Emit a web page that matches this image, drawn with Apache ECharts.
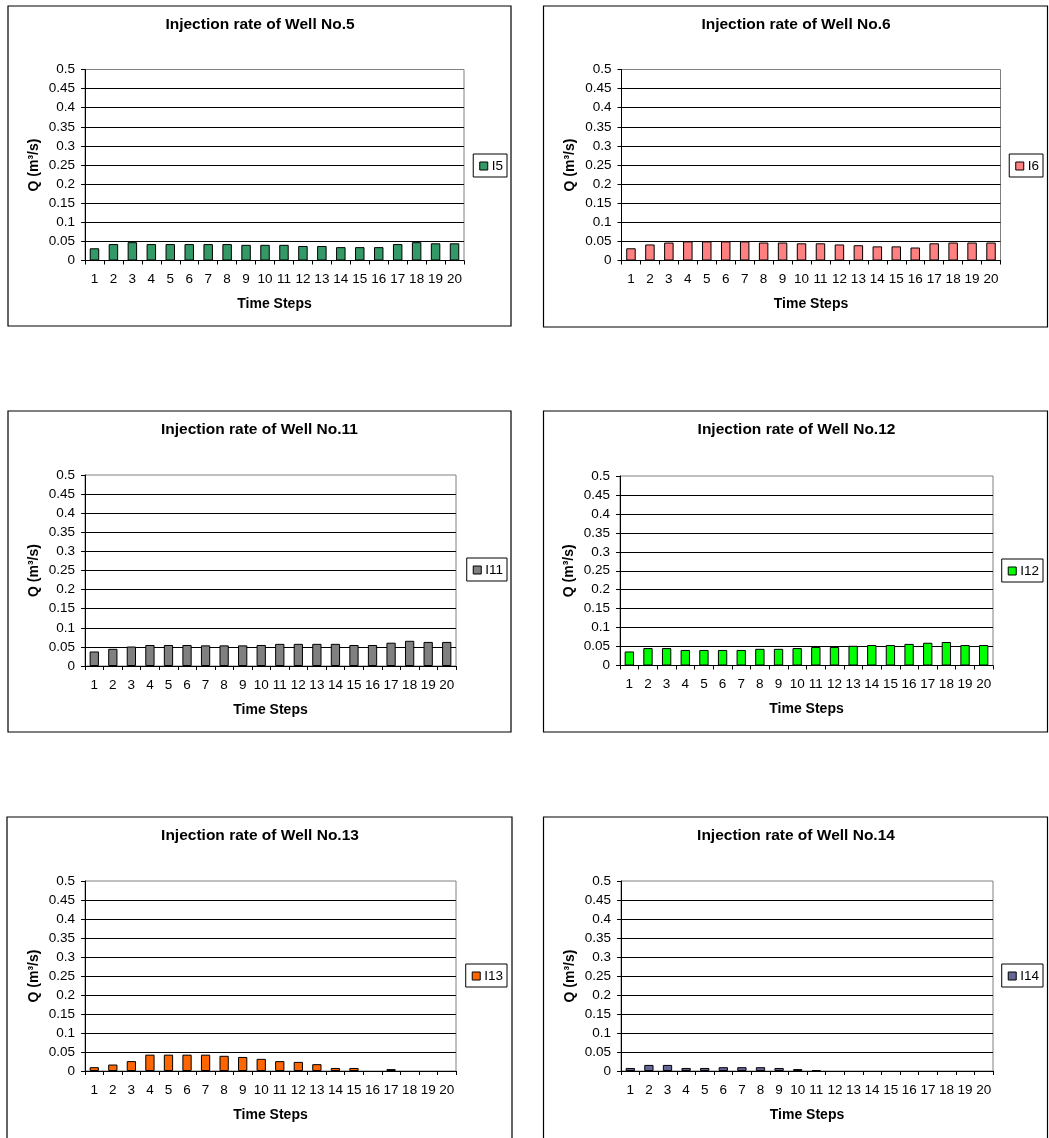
<!DOCTYPE html>
<html>
<head>
<meta charset="utf-8">
<script src="https://cdn.jsdelivr.net/npm/echarts@6/dist/echarts.min.js"></script>
<style>
html,body{margin:0;padding:0;background:#fff;}
#c{width:1049px;height:1138px;}
</style>
</head>
<body>
<div id="c"></div>
<script>
// ---- data ----
const timeSteps = ['1','2','3','4','5','6','7','8','9','10','11','12','13','14','15','16','17','18','19','20'];
const yTicks = [0,0.05,0.1,0.15,0.2,0.25,0.3,0.35,0.4,0.45,0.5];
const wellNames = ['I5','I6','I11','I12','I13','I14'];
const chartTitles = ['Injection rate of Well No.5','Injection rate of Well No.6','Injection rate of Well No.11','Injection rate of Well No.12','Injection rate of Well No.13','Injection rate of Well No.14'];
const I5  = [0.032,0.043,0.048,0.043,0.043,0.043,0.043,0.043,0.041,0.041,0.041,0.038,0.038,0.035,0.035,0.035,0.043,0.048,0.045,0.045];
const I6  = [0.032,0.042,0.047,0.05,0.05,0.05,0.05,0.047,0.047,0.045,0.045,0.042,0.04,0.037,0.037,0.034,0.045,0.047,0.047,0.047];
const I11 = [0.038,0.045,0.051,0.055,0.055,0.055,0.054,0.054,0.054,0.055,0.058,0.058,0.058,0.058,0.055,0.055,0.061,0.066,0.063,0.063];
const I12 = [0.037,0.046,0.046,0.041,0.041,0.041,0.041,0.044,0.044,0.046,0.049,0.049,0.052,0.054,0.054,0.057,0.06,0.062,0.054,0.054];
const I13 = [0.01,0.017,0.026,0.043,0.043,0.043,0.043,0.04,0.037,0.032,0.026,0.024,0.018,0.008,0.008,0,0.005,0,0,0];
const I14 = [0.008,0.016,0.016,0.008,0.008,0.01,0.01,0.01,0.008,0.005,0.002,0,0,0,0,0,0,0,0,0];
const seriesValues = [I5, I6, I11, I12, I13, I14];

// ---- styles / layout ----
const colors = ['#339966','#FF8080','#808080','#00FF00','#FF6600','#666699'];
const FONT = 'Liberation Sans, Arial, sans-serif';
const grids = [
  {left:85, top:69.5, width:379, height:191},
  {left:621.5, top:69.5, width:379, height:191},
  {left:85, top:475, width:371, height:191},
  {left:620, top:476, width:373, height:189.5},
  {left:85, top:881, width:371, height:190},
  {left:621, top:881, width:372, height:190}
];
const boxes = [
  {x:8, y:6, w:503, h:320},
  {x:543.5, y:6, w:504, h:321},
  {x:8, y:411, w:503, h:321},
  {x:543.5, y:411, w:504, h:321},
  {x:7, y:817, w:505, h:340},
  {x:543.5, y:817, w:504, h:340}
];
const titlePos = [[260,27],[796,27],[259.5,432],[796.5,432],[260,838],[796,838]];
const legendPos = [[542,154],[6,154],[542,558],[6,559],[542,964],[6,964]];

const option = {
  animation:false,
  backgroundColor:'#fff',
  textStyle:{fontFamily:FONT, color:'#000'},
  title: chartTitles.map((t,i)=>({
    text:t, left:titlePos[i][0], top:titlePos[i][1]-10, textAlign:'center', padding:0,
    textStyle:{fontFamily:FONT, fontSize:15.5, fontWeight:'bold', color:'#000'}
  })),
  legend: wellNames.map((n,i)=>({
    data:[n], right:legendPos[i][0], top:legendPos[i][1], orient:'vertical',
    borderColor:'#000', borderWidth:1, padding:[5,4,4,6], itemWidth:8, itemHeight:8, itemGap:4,
    icon:'rect', selectedMode:false,
    itemStyle:{borderColor:'#000', borderWidth:1},
    textStyle:{fontFamily:FONT, fontSize:13.5, color:'#000', padding:[0,0,0,-1]}
  })),
  grid: grids.map(g=>({left:g.left, top:g.top, width:g.width, height:g.height, show:true, borderColor:'#808080', borderWidth:1, backgroundColor:'transparent'})),
  xAxis: grids.map((g,i)=>({
    gridIndex:i, type:'category', data:timeSteps, boundaryGap:true,
    axisLine:{show:true, lineStyle:{color:'#000', width:1}},
    axisTick:{show:true, length:4, alignWithLabel:false, interval:0, lineStyle:{color:'#000'}},
    axisLabel:{interval:0, fontSize:13.5, color:'#000', margin:12, fontFamily:FONT},
    splitLine:{show:false},
    name:'Time Steps', nameLocation:'middle', nameGap:37,
    nameTextStyle:{fontFamily:FONT, fontSize:14, fontWeight:'bold', color:'#000'}
  })),
  yAxis: grids.map((g,i)=>({
    gridIndex:i, type:'value', min:yTicks[0], max:yTicks[yTicks.length-1], interval:yTicks[1]-yTicks[0],
    axisLine:{show:true, lineStyle:{color:'#000', width:1}},
    axisTick:{show:true, length:4, lineStyle:{color:'#000'}},
    axisLabel:{fontSize:13.5, color:'#000', margin:10, fontFamily:FONT},
    splitLine:{show:true, showMaxLine:false, lineStyle:{color:'#000', width:1}},
    name:'Q (m³/s)', nameLocation:'middle', nameGap:44,
    nameTextStyle:{fontFamily:FONT, fontSize:14, fontWeight:'bold', color:'#000'}
  })),
  series: seriesValues.map((vals,i)=>({
    type:'bar', name:wellNames[i], xAxisIndex:i, yAxisIndex:i,
    data: vals.map(v => v === 0 ? {value:v, itemStyle:{borderWidth:0}} : v),
    barWidth:'50%', silent:true,
    itemStyle:{color:colors[i], borderColor:'#000', borderWidth:1}
  })),
  graphic: boxes.map(b=>({
    type:'rect', shape:{x:b.x, y:b.y, width:b.w, height:b.h},
    style:{fill:'none', stroke:'#000', lineWidth:1.2}, silent:true, z:-1
  }))
};

const chart = echarts.init(document.getElementById('c'), null, {renderer:'canvas'});
chart.setOption(option);
</script>
</body>
</html>
